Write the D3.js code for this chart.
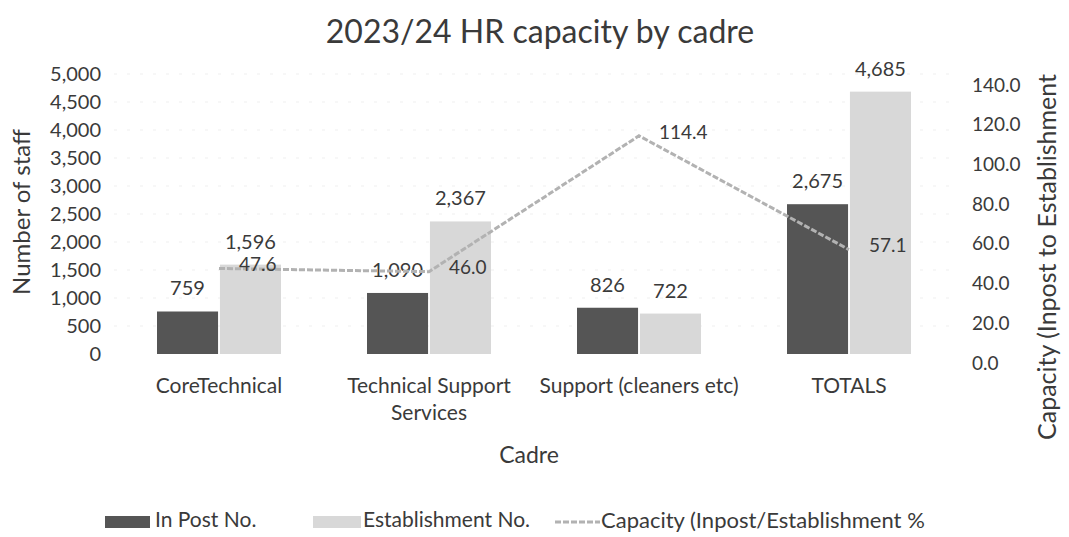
<!DOCTYPE html>
<html lang="en">
<head>
<meta charset="UTF-8">
<title>2023/24 HR capacity by cadre</title>
<script src="https://cdn.jsdelivr.net/npm/d3@7"></script>
<style>
  body{margin:0;background:#fff;}
  text{font-family:Lato,"Open Sans",sans-serif;fill:#3a3a3a;}
</style>
</head>
<body>
<div class="chart"></div>
<script>
    //data
    const categories=['CoreTechnical','Technical Support Services','Support (cleaners etc)','TOTALS']
    const inPost=[759,1090,826,2675]
    const establishment=[1596,2367,722,4685]
    const capacity=[47.6,46.0,114.4,57.1]
    const leftTicks=[0,500,1000,1500,2000,2500,3000,3500,4000,4500,5000]
    const rightTicks=[0,20,40,60,80,100,120,140]
    const seriesNames=['In Post No.','Establishment No.','Capacity (Inpost/Establishment %']

    const W=1069,H=537
    const svg=d3.select('.chart').append('svg').attr('width',W).attr('height',H)

    //scales
    let x=d3.scaleBand().domain(categories).range([114,954])
    let xInner=d3.scaleBand().domain([0,1]).range([0,124]).paddingInner(0.03)
    let yLeft=d3.scaleLinear().domain([0,5000]).range([354,74])
    let yRight=d3.scaleLinear().domain([0,140]).range([363,85])
    let fmt=d3.format(',')
    let fmt1=d3.format('.1f')
    const darkColor='#555555',lightColor='#d8d8d8',lineColor='#b2b2b2'

    //grid
    svg.append('g').selectAll('line').data(leftTicks.slice(1)).join('line')
        .attr('x1',114).attr('x2',954)
        .attr('y1',d=>yLeft(d)).attr('y2',d=>yLeft(d))
        .attr('stroke','#efefef').attr('stroke-dasharray','3,10')

    //axes
    let leftAxis=d3.axisLeft(yLeft).tickValues(leftTicks).tickFormat(fmt).tickSize(0).tickPadding(0)
    let gl=svg.append('g').attr('transform','translate(101,0)').call(leftAxis)
    gl.select('.domain').remove()
    gl.selectAll('text').style('font-size','20px').attr('fill','#3a3a3a')

    let rightAxis=d3.axisRight(yRight).tickValues(rightTicks).tickFormat(fmt1).tickSize(0).tickPadding(0)
    let gr=svg.append('g').attr('transform','translate(972,0)').call(rightAxis)
    gr.select('.domain').remove()
    gr.selectAll('text').style('font-size','19px').attr('fill','#3a3a3a')

    let bottomAxis=d3.axisBottom(x).tickSize(0).tickPadding(0)
    let gb=svg.append('g').attr('transform','translate(0,378)').call(bottomAxis)
    gb.select('.domain').remove()
    gb.selectAll('.tick text').style('font-size','21px').attr('fill','#3a3a3a').text(null)
        .each(function(d){
            let t=d3.select(this)
            let lines=d==='Technical Support Services'?['Technical Support','Services']:[d]
            lines.forEach((s,i)=>t.append('tspan').attr('x',0).attr('dy',i===0?'0.71em':'1.3em').text(s))
        })

    //bars
    let groups=svg.append('g').selectAll('g').data(categories).join('g')
        .attr('transform',d=>'translate('+(x(d)+x.bandwidth()/2-62)+',0)')
    groups.each(function(d,i){
        let g=d3.select(this)
        let vals=[inPost[i],establishment[i]]
        g.selectAll('rect').data(vals).join('rect')
            .attr('x',(v,j)=>xInner(j)).attr('width',xInner.bandwidth())
            .attr('y',v=>yLeft(v)).attr('height',v=>yLeft(0)-yLeft(v))
            .attr('fill',(v,j)=>j===0?darkColor:lightColor)
        g.selectAll('text').data(vals).join('text')
            .attr('x',(v,j)=>xInner(j)+xInner.bandwidth()/2)
            .attr('y',v=>yLeft(v)-16)
            .attr('text-anchor','middle').style('font-size','20px')
            .text(v=>fmt(v))
    })

    //line
    let cx=d=>x(d)+x.bandwidth()/2
    let line=d3.line().x((v,i)=>cx(categories[i])).y(v=>yRight(v))
    svg.append('path').datum(capacity).attr('d',line)
        .attr('fill','none').attr('stroke',lineColor).attr('stroke-width',3)
        .attr('stroke-dasharray','6,2')
    svg.append('g').selectAll('text').data(capacity).join('text')
        .attr('x',(v,i)=>cx(categories[i])+20).attr('y',v=>yRight(v)-2)
        .attr('dominant-baseline','middle').style('font-size','19px')
        .text(v=>fmt1(v))

    //titles
    svg.append('text').attr('x',540).attr('y',43).attr('text-anchor','middle')
        .style('font-size','32px').text('2023/24 HR capacity by cadre')
    svg.append('text').attr('x',529).attr('y',463).attr('text-anchor','middle')
        .style('font-size','23px').text('Cadre')
    svg.append('text').attr('transform','translate(30,212) rotate(-90)').attr('text-anchor','middle')
        .style('font-size','24px').text('Number of staff')
    svg.append('text').attr('transform','translate(1056,440) rotate(-90)').attr('text-anchor','start')
        .style('font-size','25px').text('Capacity (Inpost to Establishment')

    //legend
    let legend=svg.append('g').attr('transform','translate(0,522)')
    legend.append('rect').attr('x',105).attr('y',-6).attr('width',45).attr('height',12).attr('fill',darkColor)
    legend.append('text').attr('x',155).attr('y',0).attr('dominant-baseline','middle').style('font-size','21px').text(seriesNames[0])
    legend.append('rect').attr('x',313).attr('y',-6).attr('width',48).attr('height',12).attr('fill',lightColor)
    legend.append('text').attr('x',363).attr('y',0).attr('dominant-baseline','middle').style('font-size','21px').text(seriesNames[1])
    legend.append('line').attr('x1',555).attr('x2',600).attr('y1',0).attr('y2',0)
        .attr('stroke',lineColor).attr('stroke-width',3).attr('stroke-dasharray','6,2')
    legend.append('text').attr('x',601).attr('y',0).attr('dominant-baseline','middle').style('font-size','22px').text(seriesNames[2])
</script>
</body>
</html>
